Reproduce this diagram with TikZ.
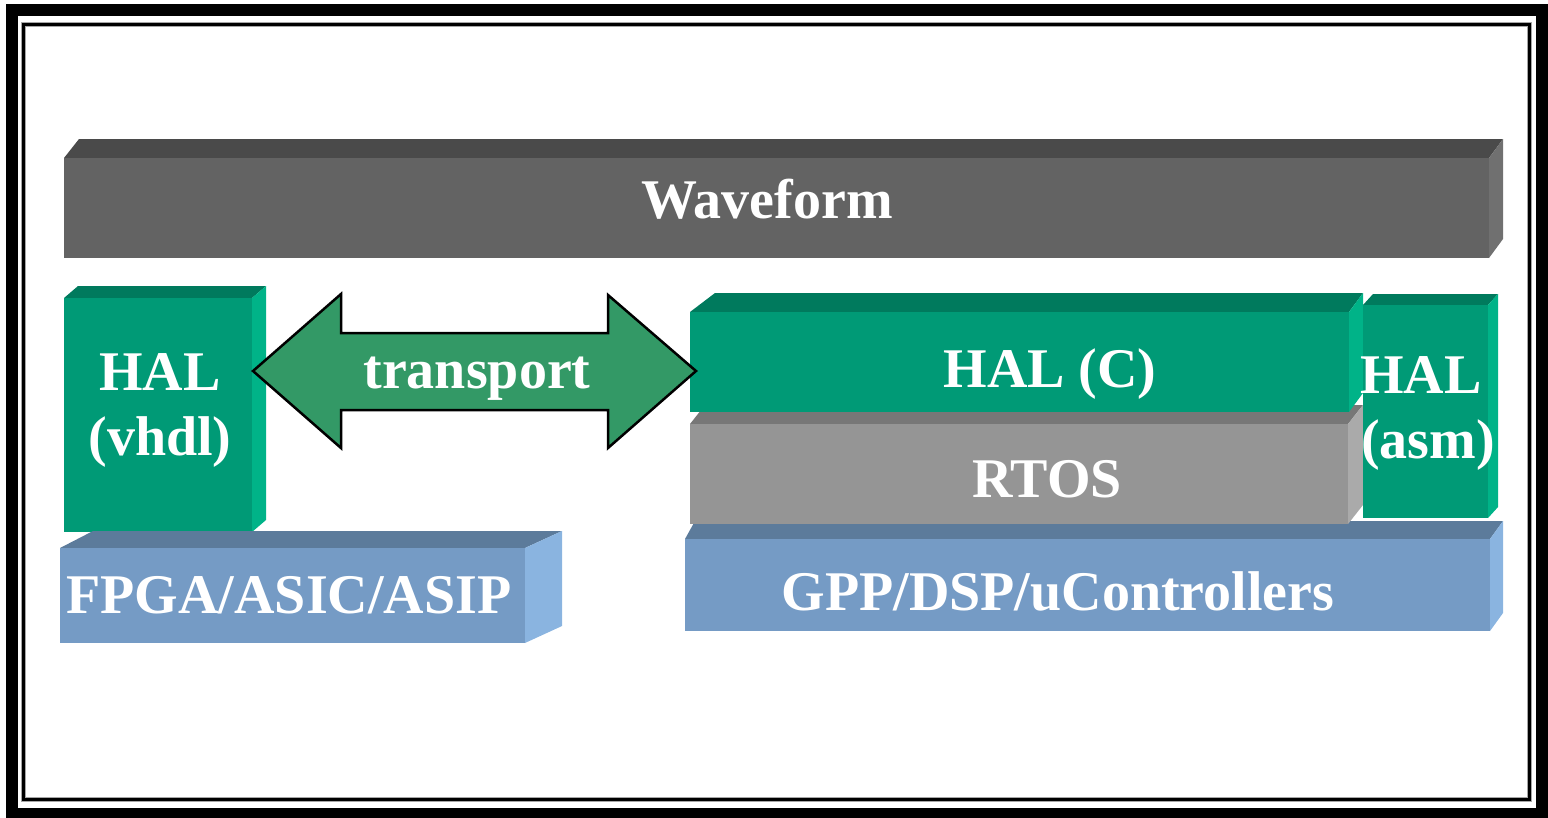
\documentclass[tikz,border=0pt]{standalone}
\usepackage{fontspec}
\setmainfont{Liberation Serif}
\definecolor{wfF}{HTML}{636363}\definecolor{wfT}{HTML}{4A4A4A}\definecolor{wfS}{HTML}{707070}
\definecolor{grF}{HTML}{009A76}\definecolor{grT}{HTML}{007A5D}\definecolor{grS}{HTML}{00B388}
\definecolor{rtF}{HTML}{959595}\definecolor{rtT}{HTML}{777777}\definecolor{rtS}{HTML}{AAAAAA}
\definecolor{blF}{HTML}{759BC5}\definecolor{blT}{HTML}{5C7B9B}\definecolor{blS}{HTML}{8AB4E0}
\definecolor{arF}{HTML}{339966}
\newcommand{\cub}[8]{%
 \fill[#8T] (#1,#2) -- ({#1+#5},{#2-#7}) -- ({#3+#6},{#2-#7}) -- (#3,#2) -- cycle;
 \fill[#8S] (#3,#2) -- ({#3+#6},{#2-#7}) -- ({#3+#6},{#4-#7}) -- (#3,#4) -- cycle;
 \fill[#8F] (#1,#2) rectangle (#3,#4);}
\tikzset{lbl/.style={text=white,font=\fontsize{56}{60}\selectfont\bfseries,inner sep=0pt,anchor=base}}
\begin{document}
\begin{tikzpicture}[x=1pt,y=-1pt]
\useasboundingbox (0,0) rectangle (1548,817);
% frame
\draw[line width=12pt] (12,10) rectangle (1542,814);
\draw[line width=5pt,gray!70] (23.5,24.5) rectangle (1529,799);
\draw[line width=3pt,black] (23.5,24.5) rectangle (1529,799);
% boxes
\cub{64}{158}{1489}{258}{15}{14}{19}{wf}
\cub{64}{298}{252}{532}{14}{14}{12}{gr}
\cub{60}{548}{525}{643}{33}{37}{17}{bl}
\cub{685}{539}{1490}{631}{10}{13}{18}{bl}
\cub{690}{424}{1348}{524}{15}{15}{19}{rt}
\cub{690}{312}{1349}{412}{25}{14}{19}{gr}
\cub{1363}{305}{1488}{518}{10}{10}{11}{gr}
% arrow
\draw[line width=2.5pt,fill=arF,line join=miter] (253,371) -- (341,294) -- (341,333) -- (608,333) -- (608,295) -- (696,371) -- (608,448) -- (608,410) -- (341,410) -- (341,448) -- cycle;
% labels
\node[lbl] (wf) at (767,218) {Waveform};
\node[lbl] (hv1) at (160,390) {HAL};
\node[lbl] (hv2) at (160,455) {(vhdl)};
\node[lbl] (tr) at (477,388) {transport};
\node[lbl] (hc) at (1050,387) {HAL (C)};
\node[lbl] (rt) at (1047,497) {RTOS};
\node[lbl] (ha1) at (1421,393) {HAL};
\node[lbl] (ha2) at (1428,458) {(asm)};
\node[lbl] (fp) at (289,613) {FPGA/ASIC/ASIP};
\node[lbl] (gp) at (1058,610) {GPP/DSP/uControllers};
\end{tikzpicture}
\end{document}
